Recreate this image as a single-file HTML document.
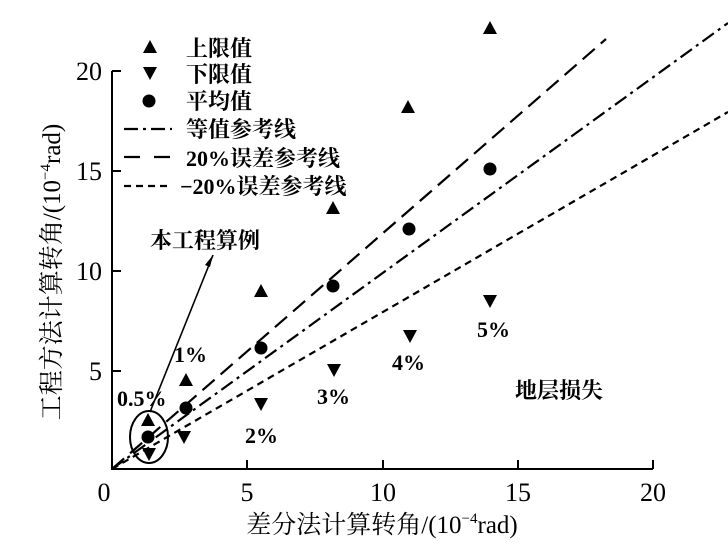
<!DOCTYPE html>
<html><head><meta charset="utf-8"><style>
html,body{margin:0;padding:0;background:#fff;width:728px;height:544px;overflow:hidden}
svg text{font-family:"Liberation Serif","Noto Serif CJK SC",serif;fill:#000}
</style></head><body>
<svg width="728" height="544" viewBox="0 0 728 544" xmlns="http://www.w3.org/2000/svg">
<defs>
<path id="up" d="M0,-8 L7,5 L-7,5 Z"/>
<path id="dn" d="M0,8 L7,-5 L-7,-5 Z"/>
</defs>
<path d="M112,71 L112,469 L653,469" fill="none" stroke="#000" stroke-width="2"/>
<g stroke="#000" stroke-width="2">
<line x1="247" y1="469" x2="247" y2="460"/><line x1="383" y1="469" x2="383" y2="460"/>
<line x1="518" y1="469" x2="518" y2="460"/><line x1="653" y1="469" x2="653" y2="460"/>
<line x1="112" y1="371" x2="121" y2="371"/><line x1="112" y1="271" x2="121" y2="271"/>
<line x1="112" y1="171" x2="121" y2="171"/><line x1="112" y1="71" x2="121" y2="71"/>
</g>
<g font-size="26" text-anchor="middle">
<text x="104" y="501">0</text><text x="247" y="501">5</text><text x="383" y="501">10</text><text x="518" y="501">15</text><text x="653" y="501">20</text>
</g>
<g font-size="26" text-anchor="end">
<text x="102" y="380">5</text><text x="102" y="280">10</text><text x="102" y="180">15</text><text x="102" y="80">20</text>
</g>
<text x="382" y="533" font-size="25" text-anchor="middle">差分法计算转角/(10<tspan font-size="15" dy="-10">−4</tspan><tspan dy="10">rad)</tspan></text>
<text transform="translate(60,272) rotate(-90)" font-size="25" text-anchor="middle">工程方法计算转角/(10<tspan font-size="15" dy="-10">−4</tspan><tspan dy="10">rad)</tspan></text>
<g stroke="#000" stroke-width="2.2" fill="none">
<line x1="112" y1="469" x2="728" y2="23" stroke-dasharray="14,5,3,5"/>
<line x1="112" y1="469" x2="606" y2="39" stroke-dasharray="16,8"/>
<line x1="112" y1="469" x2="728" y2="112" stroke-dasharray="7,5"/>
</g>
<g fill="#000">
<use href="#up" x="148" y="421"/><use href="#up" x="186" y="381"/><use href="#up" x="261" y="292"/>
<use href="#up" x="333" y="209"/><use href="#up" x="408" y="108"/><use href="#up" x="490" y="29"/>
<use href="#dn" x="149" y="453"/><use href="#dn" x="184" y="436"/><use href="#dn" x="261" y="403"/>
<use href="#dn" x="334" y="369"/><use href="#dn" x="410" y="335"/><use href="#dn" x="490" y="300"/>
<circle cx="148" cy="437" r="6.5"/><circle cx="186" cy="408" r="6.5"/><circle cx="261" cy="348" r="6.5"/>
<circle cx="333" cy="286" r="6.5"/><circle cx="409" cy="229" r="6.5"/><circle cx="490" cy="169" r="6.5"/>
</g>
<ellipse cx="149" cy="437" rx="19" ry="26" fill="none" stroke="#000" stroke-width="2"/>
<line x1="150" y1="412" x2="213" y2="255" stroke="#000" stroke-width="1.6"/>
<path d="M213,255 L205,265 L210,267 Z" fill="#000"/>
<g font-size="22" font-weight="bold">
<text x="150" y="248">本工程算例</text>
<text x="174" y="362">1%</text>
<text x="117" y="406">0.5%</text>
<text x="245" y="443">2%</text>
<text x="317" y="404">3%</text>
<text x="392" y="370">4%</text>
<text x="477" y="337">5%</text>
<text x="515" y="398">地层损失</text>
</g>
<g fill="#000">
<use href="#up" x="150" y="48"/><use href="#dn" x="150" y="72"/><circle cx="149" cy="101" r="6.5"/>
</g>
<g stroke="#000" stroke-width="2.2">
<line x1="124" y1="129" x2="172" y2="129" stroke-dasharray="14,5,3,5"/>
<line x1="124" y1="157" x2="172" y2="157" stroke-dasharray="16,14"/>
<line x1="124" y1="186" x2="172" y2="186" stroke-dasharray="7,5"/>
</g>
<g font-size="22" font-weight="bold">
<text x="186" y="56">上限值</text><text x="186" y="82">下限值</text><text x="186" y="109">平均值</text>
<text x="186" y="137">等值参考线</text><text x="186" y="166">20%误差参考线</text><text x="180" y="194">−20%误差参考线</text>
</g>
</svg>
</body></html>
